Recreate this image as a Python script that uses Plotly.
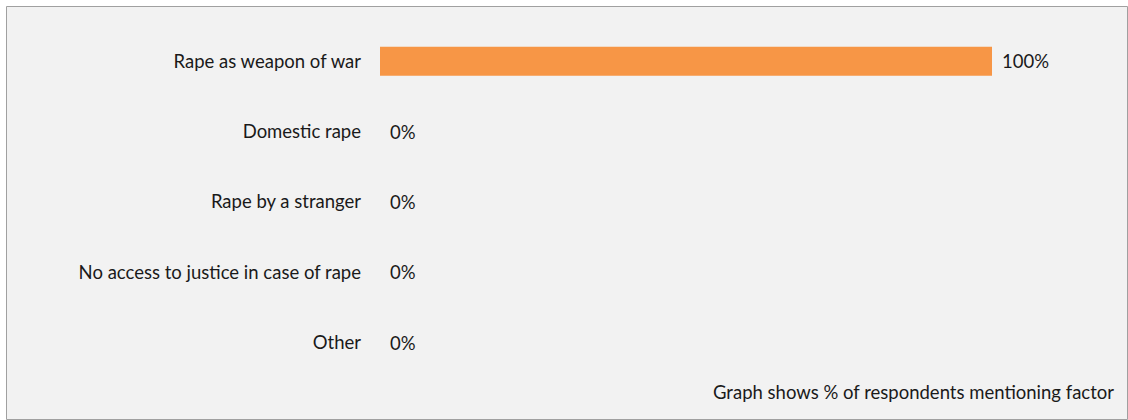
import plotly.graph_objects as go

categories = ["Rape as weapon of war", "Domestic rape", "Rape by a stranger",
              "No access to justice in case of rape", "Other"]
values = [100, 0, 0, 0, 0]
value_labels = ["100%", "0%", "0%", "0%", "0%"]
note = "Graph shows % of respondents mentioning factor"

FONT = "Lato"
FS = 18.5
W, H = 1128, 420
L, R, T, B = 380, 136, 26, 42
pw, ph = W - L - R, H - T - B

def px_x(p):
    return (p - L) / pw

def px_y(p):
    return (H - B - p) / ph

fig = go.Figure(go.Bar(
    y=categories, x=values, orientation="h",
    marker=dict(color="#F79646", line=dict(width=0)),
    width=0.41,
))

for c, v, t in zip(categories, values, value_labels):
    fig.add_annotation(x=v, y=c, text=t, showarrow=False, xanchor="left",
                       xshift=8, font=dict(family=FONT, size=FS, color="#1a1a1a"))

fig.add_annotation(xref="paper", yref="paper", x=px_x(1116), y=px_y(392),
                   xanchor="right", yanchor="middle", text=note, showarrow=False,
                   font=dict(family=FONT, size=FS, color="#1a1a1a"))

fig.add_shape(type="rect", xref="paper", yref="paper",
              x0=px_x(6.5), x1=px_x(1127.5), y0=px_y(419.5), y1=px_y(6.5),
              fillcolor="#F2F2F2", line=dict(color="#A0A0A0", width=1), layer="below")

fig.update_layout(
    width=W, height=H,
    margin=dict(l=L, r=R, t=T, b=B, autoexpand=False),
    paper_bgcolor="white", plot_bgcolor="rgba(0,0,0,0)",
    showlegend=False,
    xaxis=dict(range=[0, 100], visible=False, fixedrange=True),
    yaxis=dict(autorange="reversed", showgrid=False, zeroline=False, showline=False,
               ticks="", ticklabelstandoff=18, automargin=False,
               tickfont=dict(family=FONT, size=FS, color="#1a1a1a")),
    bargap=0.59,
)

fig.write_html("out.html", config={"displayModeBar": False},
               post_script="document.body.style.margin='0';document.body.style.overflow='hidden';")
